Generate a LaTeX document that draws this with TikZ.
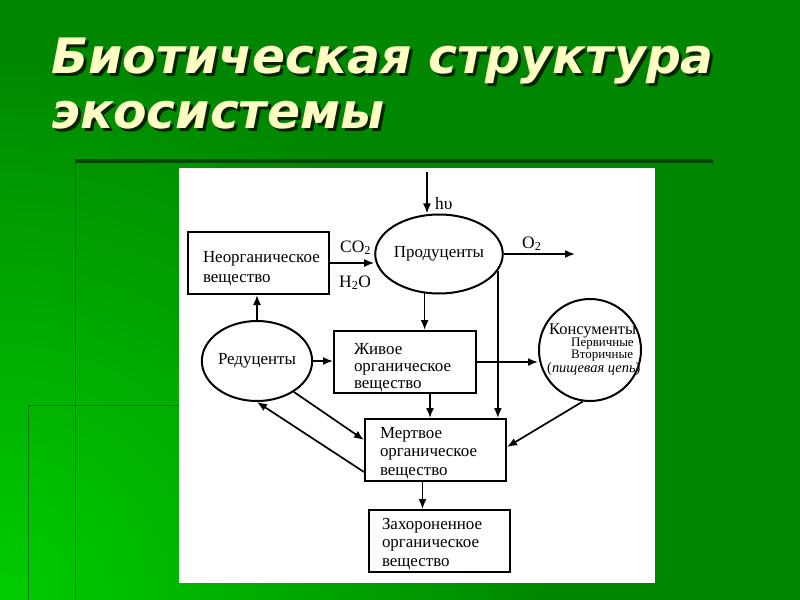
\documentclass[tikz,border=0pt]{standalone}
\usepackage{fontspec}
\setmainfont{Liberation Serif}
\newfontfamily\titlefont{DejaVu Sans}[BoldItalicFont={DejaVu Sans Bold Oblique}]
\usetikzlibrary{positioning,shapes.geometric,arrows.meta}
\definecolor{bgdark}{RGB}{0,134,0}
\definecolor{bglight}{RGB}{0,205,0}
\definecolor{bgline}{RGB}{0,118,0}
\definecolor{bgrule}{RGB}{0,72,0}
\definecolor{titleyellow}{RGB}{255,255,195}
\definecolor{titleshadow}{RGB}{10,35,0}
\tikzset{
  titletext/.style={anchor=north west,align=left,inner sep=0bp,text=titleyellow,
    font=\titlefont\bfseries\itshape\fontsize{49}{55}\selectfont},
  orgbox/.style={draw,line width=2bp,minimum width=141bp,minimum height=62bp,
    text width=111bp,inner xsep=15bp,inner ysep=0bp,align=left,
    font=\fontsize{17}{18.5}\selectfont,execute at begin node={\rule{0pt}{#1}}},
  orgbox/.default=16bp,
  orgoval/.style={draw,ellipse,line width=2bp,minimum width=106bp,minimum height=79bp,
    inner sep=0bp,font=\fontsize{17}{18.5}\selectfont},
  flow/.style={line width=1.7bp,-{Latex[length=10bp,width=8bp]}},
  chem/.style={anchor=base west,inner sep=0bp,font=\fontsize{17.5}{19}\selectfont}
}
\newcommand{\orgbox}[5][]{
  \node[orgbox,#1] (#2) at (#3,#4) {#5};
}

\begin{document}
\begin{tikzpicture}[x=1bp,y=-1bp]
\useasboundingbox (0,0) rectangle (800,600);
% slide background
\fill[bgdark] (0,0) rectangle (800,600);
\begin{scope}
  \clip (0,0) rectangle (800,600);
  \shade[inner color=bglight,outer color=bgdark] (0,600) circle (560);
\end{scope}
\draw[bgline,line width=1bp] (75,163) -- (75,600);
\draw[bgline,line width=1bp] (179,405) -- (28,405) -- (28,600);
\draw[bgrule,line width=4bp] (75,161) -- (713,161);
\fill[white] (179,168) rectangle (655,583);

\node[titletext,text=titleshadow] (titleshade) at (54,41) {Биотическая структура\\экосистемы};
\node[titletext] (title) at (51,38) {Биотическая структура\\экосистемы};

% boxes and ovals
\orgbox[orgbox=22bp]{neorg}{258.5}{263}{Неорганическое\\[1.5bp]вещество}
\orgbox[orgbox=23bp,inner xsep=20bp,text width=102bp]{zhivoe}{405}{362}{Живое\\[-1.5bp]органическое\\[-1.5bp]вещество}
\orgbox[orgbox=17bp]{mertvoe}{435.5}{450}{Мертвое\\органическое\\вещество}
\orgbox[orgbox=17bp,inner xsep=13bp,text width=115bp]{zahor}{439.5}{541}{Захороненное\\органическое\\вещество}
\node[orgoval] (prod) at (439,254) {Продуценты};
\node[orgoval,minimum height=80bp] (redu) at (257,361) {Редуценты};
\node[draw,circle,line width=2bp,minimum size=102bp,inner sep=0bp] (konsum) at (590,350) {};
\foreach \txt/\x/\y/\sz [count=\i] in {Консументы/549/334/16.5,Первичные/571/346.5/13,
    Вторичные/571/358/13,{({\itshape пищевая цепь})}/547/372/14.5}
  \node[anchor=base west,inner sep=0bp,font=\fontsize{\sz}{\sz}\selectfont] (konsum\i) at (\x,\y) {\txt};

\coordinate (hv) at (427,172);
\coordinate (o2) at (575,254);
\coordinate (zhdown) at ([xshift=25bp]zhivoe.south);
\coordinate (mdown) at ([xshift=-13bp]mertvoe.south);

% flows
\draw[flow] (neorg.east) -- (neorg.east -| prod.west);
\draw[flow] (hv) -- (hv |- prod.north);
\draw[flow] (prod.east) -- (o2);
\draw[flow] (prod.250) -- (prod.250 |- zhivoe.north);
\draw[flow] (prod.-16) -- (prod.-16 |- mertvoe.north);
\draw[flow] (redu.north) -- (redu.north |- neorg.south);
\draw[flow] (redu.east) -- (redu.east -| zhivoe.west);
\draw[flow] (zhivoe.east) -- (zhivoe.east -| konsum.west);
\draw[flow] (zhdown) -- (zhdown |- mertvoe.north);
\draw[flow] (konsum.262) -- ([yshift=3bp]mertvoe.east);
\draw[flow] (redu.-40) -- ([yshift=10bp]mertvoe.west);
\draw[flow] ([yshift=-22bp]mertvoe.west) -- (redu.south);
\draw[flow] (mdown) -- (mdown |- zahor.north);

\node[chem] (co2) at (340,252) {CO\textsubscript{2}};
\node[chem] (h2o) at (339,287) {H\textsubscript{2}O};
\node[chem] (hvlabel) at (435,210) {hυ};
\node[chem] (o2label) at (522,248) {O\textsubscript{2}};
\end{tikzpicture}
\end{document}
